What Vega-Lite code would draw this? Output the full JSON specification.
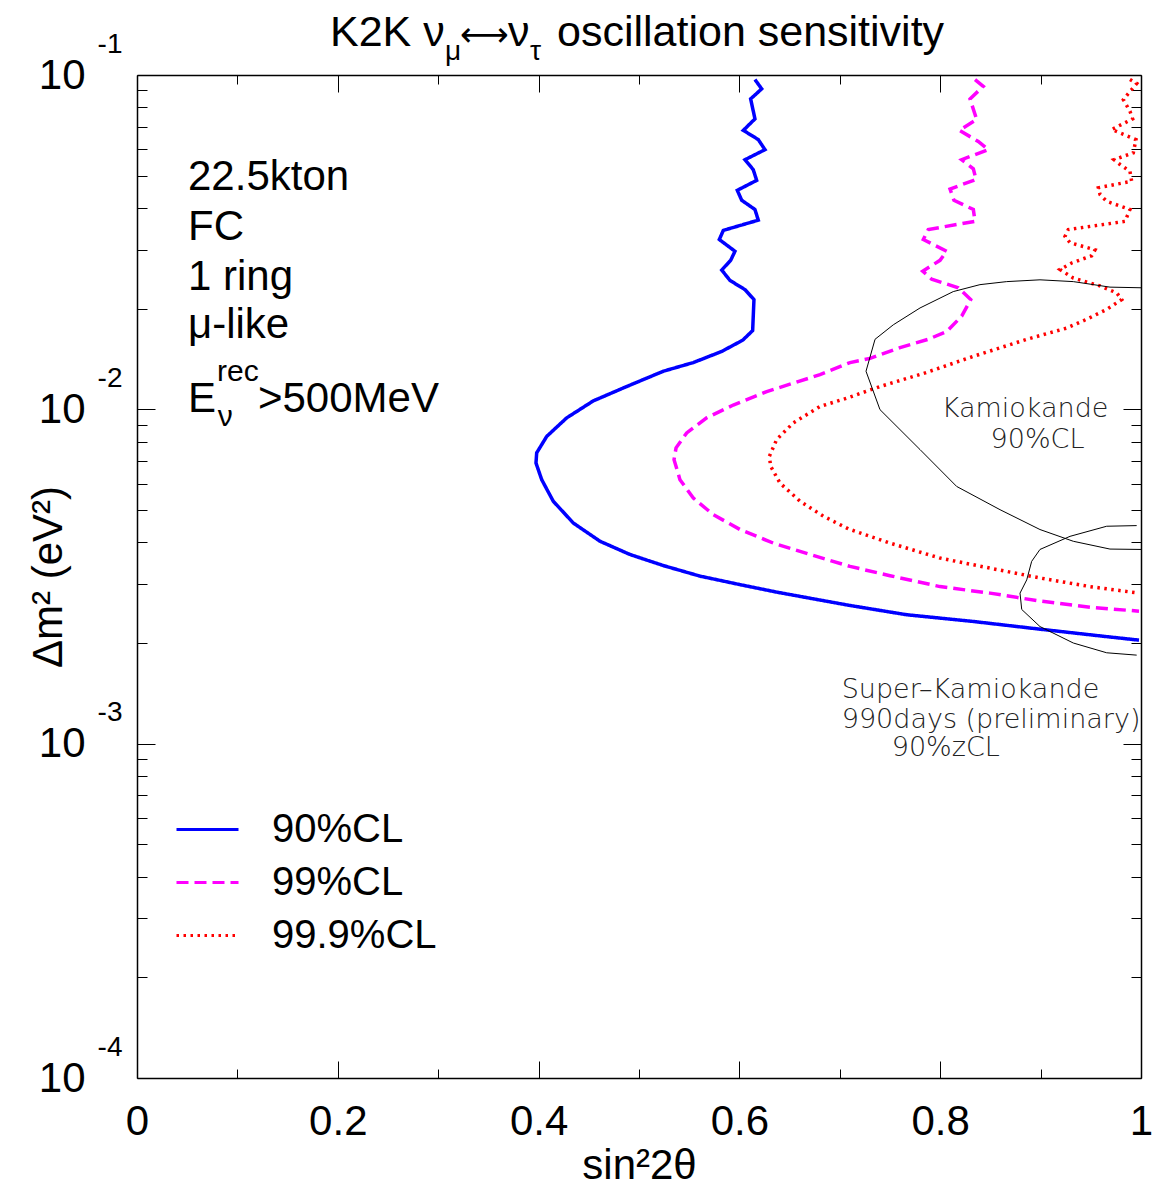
{
  "$schema": "https://vega.github.io/schema/vega-lite/v6.json",
  "width": 1004,
  "height": 1003,
  "autosize": {"type": "none"},
  "padding": {"left": 137, "top": 75, "right": 14, "bottom": 115},
  "background": "white",
  "config": {
    "view": {"stroke": null},
    "axis": {"grid": false, "domainColor": "black", "domainWidth": 1.5, "tickColor": "black", "tickWidth": 1, "labelColor": "black", "titleColor": "black", "labelFont": "Liberation Sans", "titleFont": "Liberation Sans", "titleFontWeight": "normal", "labelFlush": false, "labelOverlap": false},
    "text": {"font": "Liberation Sans", "color": "black"}
  },
  "datasets": {
    "curves": [
      {"s":"90%CL","i":1,"x":0.6155,"y":0.0969},{"s":"90%CL","i":2,"x":0.6222,"y":0.0909},{"s":"90%CL","i":3,"x":0.6112,"y":0.0848},{"s":"90%CL","i":4,"x":0.6155,"y":0.0739},{"s":"90%CL","i":5,"x":0.6039,"y":0.0683},{"s":"90%CL","i":6,"x":0.6188,"y":0.0641},{"s":"90%CL","i":7,"x":0.6255,"y":0.0598},{"s":"90%CL","i":8,"x":0.6056,"y":0.0558},{"s":"90%CL","i":9,"x":0.6138,"y":0.0521},{"s":"90%CL","i":10,"x":0.6172,"y":0.0484},
      {"s":"90%CL","i":11,"x":0.5979,"y":0.0452},{"s":"90%CL","i":12,"x":0.6023,"y":0.0422},{"s":"90%CL","i":13,"x":0.6155,"y":0.0396},{"s":"90%CL","i":14,"x":0.6188,"y":0.0368},{"s":"90%CL","i":15,"x":0.5840,"y":0.0343},{"s":"90%CL","i":16,"x":0.5800,"y":0.0322},{"s":"90%CL","i":17,"x":0.5956,"y":0.0297},{"s":"90%CL","i":18,"x":0.5913,"y":0.0279},{"s":"90%CL","i":19,"x":0.5824,"y":0.0261},{"s":"90%CL","i":20,"x":0.5906,"y":0.0243},
      {"s":"90%CL","i":21,"x":0.6056,"y":0.0228},{"s":"90%CL","i":22,"x":0.6145,"y":0.0213},{"s":"90%CL","i":23,"x":0.6132,"y":0.0172},{"s":"90%CL","i":24,"x":0.6033,"y":0.0161},{"s":"90%CL","i":25,"x":0.5824,"y":0.0149},{"s":"90%CL","i":26,"x":0.5541,"y":0.0138},{"s":"90%CL","i":27,"x":0.5242,"y":0.0130},{"s":"90%CL","i":28,"x":0.4877,"y":0.0117},{"s":"90%CL","i":29,"x":0.4545,"y":0.0106},{"s":"90%CL","i":30,"x":0.4280,"y":0.00943},
      {"s":"90%CL","i":31,"x":0.4081,"y":0.00830},{"s":"90%CL","i":32,"x":0.3981,"y":0.00741},{"s":"90%CL","i":33,"x":0.3974,"y":0.00691},{"s":"90%CL","i":34,"x":0.4031,"y":0.00616},{"s":"90%CL","i":35,"x":0.4146,"y":0.00531},{"s":"90%CL","i":36,"x":0.4346,"y":0.00457},{"s":"90%CL","i":37,"x":0.4612,"y":0.00403},{"s":"90%CL","i":38,"x":0.4910,"y":0.00368},{"s":"90%CL","i":39,"x":0.5242,"y":0.00341},{"s":"90%CL","i":40,"x":0.5608,"y":0.00317},
      {"s":"90%CL","i":41,"x":0.6006,"y":0.00299},{"s":"90%CL","i":42,"x":0.6371,"y":0.00284},{"s":"90%CL","i":43,"x":0.6770,"y":0.00270},{"s":"90%CL","i":44,"x":0.7102,"y":0.00259},{"s":"90%CL","i":45,"x":0.7666,"y":0.00243},{"s":"90%CL","i":46,"x":0.8330,"y":0.00232},{"s":"90%CL","i":47,"x":0.8994,"y":0.00220},{"s":"90%CL","i":48,"x":0.9658,"y":0.00209},{"s":"90%CL","i":49,"x":0.9980,"y":0.00204},
      {"s":"99%CL","i":1,"x":0.8347,"y":0.0969},{"s":"99%CL","i":2,"x":0.8429,"y":0.0925},{"s":"99%CL","i":3,"x":0.8297,"y":0.0848},{"s":"99%CL","i":4,"x":0.8363,"y":0.0736},{"s":"99%CL","i":5,"x":0.8190,"y":0.0683},{"s":"99%CL","i":6,"x":0.8379,"y":0.0633},{"s":"99%CL","i":7,"x":0.8479,"y":0.0598},{"s":"99%CL","i":8,"x":0.8214,"y":0.0558},{"s":"99%CL","i":9,"x":0.8330,"y":0.0524},{"s":"99%CL","i":10,"x":0.8357,"y":0.0487},
      {"s":"99%CL","i":11,"x":0.8098,"y":0.0456},{"s":"99%CL","i":12,"x":0.8137,"y":0.0422},{"s":"99%CL","i":13,"x":0.8330,"y":0.0396},{"s":"99%CL","i":14,"x":0.8347,"y":0.0365},{"s":"99%CL","i":15,"x":0.7881,"y":0.0345},{"s":"99%CL","i":16,"x":0.7832,"y":0.0322},{"s":"99%CL","i":17,"x":0.8065,"y":0.0297},{"s":"99%CL","i":18,"x":0.7998,"y":0.0279},{"s":"99%CL","i":19,"x":0.7826,"y":0.0259},{"s":"99%CL","i":20,"x":0.7915,"y":0.0245},
      {"s":"99%CL","i":21,"x":0.8180,"y":0.0231},{"s":"99%CL","i":22,"x":0.8304,"y":0.0213},{"s":"99%CL","i":23,"x":0.8214,"y":0.0190},{"s":"99%CL","i":24,"x":0.8065,"y":0.0171},{"s":"99%CL","i":25,"x":0.7881,"y":0.0162},{"s":"99%CL","i":26,"x":0.7600,"y":0.0153},{"s":"99%CL","i":27,"x":0.7301,"y":0.0142},{"s":"99%CL","i":28,"x":0.7102,"y":0.0138},{"s":"99%CL","i":29,"x":0.6803,"y":0.0127},{"s":"99%CL","i":30,"x":0.6272,"y":0.0113},
      {"s":"99%CL","i":31,"x":0.5939,"y":0.0103},{"s":"99%CL","i":32,"x":0.5674,"y":0.00943},{"s":"99%CL","i":33,"x":0.5475,"y":0.00850},{"s":"99%CL","i":34,"x":0.5369,"y":0.00767},{"s":"99%CL","i":35,"x":0.5349,"y":0.00707},{"s":"99%CL","i":36,"x":0.5408,"y":0.00616},{"s":"99%CL","i":37,"x":0.5541,"y":0.00543},{"s":"99%CL","i":38,"x":0.5740,"y":0.00484},{"s":"99%CL","i":39,"x":0.6006,"y":0.00437},{"s":"99%CL","i":40,"x":0.6338,"y":0.00398},
      {"s":"99%CL","i":41,"x":0.6703,"y":0.00368},{"s":"99%CL","i":42,"x":0.7102,"y":0.00339},{"s":"99%CL","i":43,"x":0.7500,"y":0.00318},{"s":"99%CL","i":44,"x":0.7998,"y":0.00295},{"s":"99%CL","i":45,"x":0.8496,"y":0.00282},{"s":"99%CL","i":46,"x":0.8994,"y":0.00267},{"s":"99%CL","i":47,"x":0.9492,"y":0.00256},{"s":"99%CL","i":48,"x":0.9980,"y":0.00249},
      {"s":"99.9%CL","i":1,"x":0.9890,"y":0.0969},{"s":"99.9%CL","i":2,"x":0.9957,"y":0.0943},{"s":"99.9%CL","i":3,"x":0.9824,"y":0.0844},{"s":"99.9%CL","i":4,"x":0.9890,"y":0.0779},{"s":"99.9%CL","i":5,"x":0.9917,"y":0.0739},{"s":"99.9%CL","i":6,"x":0.9708,"y":0.0687},{"s":"99.9%CL","i":7,"x":0.9791,"y":0.0671},{"s":"99.9%CL","i":8,"x":0.9950,"y":0.0641},{"s":"99.9%CL","i":9,"x":0.9923,"y":0.0585},{"s":"99.9%CL","i":10,"x":0.9731,"y":0.0558},
      {"s":"99.9%CL","i":11,"x":0.9791,"y":0.0540},{"s":"99.9%CL","i":12,"x":0.9890,"y":0.0515},{"s":"99.9%CL","i":13,"x":0.9907,"y":0.0481},{"s":"99.9%CL","i":14,"x":0.9575,"y":0.0460},{"s":"99.9%CL","i":15,"x":0.9592,"y":0.0439},{"s":"99.9%CL","i":16,"x":0.9658,"y":0.0419},{"s":"99.9%CL","i":17,"x":0.9890,"y":0.0396},{"s":"99.9%CL","i":18,"x":0.9841,"y":0.0365},{"s":"99.9%CL","i":19,"x":0.9276,"y":0.0345},{"s":"99.9%CL","i":20,"x":0.9243,"y":0.0329},
      {"s":"99.9%CL","i":21,"x":0.9293,"y":0.0315},{"s":"99.9%CL","i":22,"x":0.9542,"y":0.0300},{"s":"99.9%CL","i":23,"x":0.9509,"y":0.0288},{"s":"99.9%CL","i":24,"x":0.9310,"y":0.0274},{"s":"99.9%CL","i":25,"x":0.9193,"y":0.0262},{"s":"99.9%CL","i":26,"x":0.9326,"y":0.0247},{"s":"99.9%CL","i":27,"x":0.9592,"y":0.0234},{"s":"99.9%CL","i":28,"x":0.9758,"y":0.0223},{"s":"99.9%CL","i":29,"x":0.9808,"y":0.0213},{"s":"99.9%CL","i":30,"x":0.9658,"y":0.0199},
      {"s":"99.9%CL","i":31,"x":0.9459,"y":0.0186},{"s":"99.9%CL","i":32,"x":0.9260,"y":0.0175},{"s":"99.9%CL","i":33,"x":0.8862,"y":0.0162},{"s":"99.9%CL","i":34,"x":0.8330,"y":0.0144},{"s":"99.9%CL","i":35,"x":0.7832,"y":0.0128},{"s":"99.9%CL","i":36,"x":0.7400,"y":0.0117},{"s":"99.9%CL","i":37,"x":0.7069,"y":0.0108},{"s":"99.9%CL","i":38,"x":0.6803,"y":0.0102},{"s":"99.9%CL","i":39,"x":0.6537,"y":0.00911},{"s":"99.9%CL","i":40,"x":0.6371,"y":0.00812},
      {"s":"99.9%CL","i":41,"x":0.6298,"y":0.00723},{"s":"99.9%CL","i":42,"x":0.6312,"y":0.00675},{"s":"99.9%CL","i":43,"x":0.6404,"y":0.00602},{"s":"99.9%CL","i":44,"x":0.6604,"y":0.00531},{"s":"99.9%CL","i":45,"x":0.6836,"y":0.00479},{"s":"99.9%CL","i":46,"x":0.7085,"y":0.00439},{"s":"99.9%CL","i":47,"x":0.7500,"y":0.00398},{"s":"99.9%CL","i":48,"x":0.7998,"y":0.00359},{"s":"99.9%CL","i":49,"x":0.8496,"y":0.00335},{"s":"99.9%CL","i":50,"x":0.8994,"y":0.00313},
      {"s":"99.9%CL","i":51,"x":0.9492,"y":0.00295},{"s":"99.9%CL","i":52,"x":0.9980,"y":0.00282}
    ],
    "contours": [
      {"c":"kam","i":1,"x":1.0,"y":0.0231},{"c":"kam","i":2,"x":0.9691,"y":0.0232},{"c":"kam","i":3,"x":0.9326,"y":0.0241},{"c":"kam","i":4,"x":0.8994,"y":0.0244},{"c":"kam","i":5,"x":0.8662,"y":0.0241},{"c":"kam","i":6,"x":0.8396,"y":0.0236},{"c":"kam","i":7,"x":0.8130,"y":0.0225},{"c":"kam","i":8,"x":0.7799,"y":0.0201},{"c":"kam","i":9,"x":0.7533,"y":0.0179},{"c":"kam","i":10,"x":0.7351,"y":0.0162},
      {"c":"kam","i":11,"x":0.7261,"y":0.0130},{"c":"kam","i":12,"x":0.7400,"y":0.00998},{"c":"kam","i":13,"x":0.7799,"y":0.00758},{"c":"kam","i":14,"x":0.8164,"y":0.00588},{"c":"kam","i":15,"x":0.8596,"y":0.00501},{"c":"kam","i":16,"x":0.8994,"y":0.00437},{"c":"kam","i":17,"x":0.9326,"y":0.00403},{"c":"kam","i":18,"x":0.9691,"y":0.00382},{"c":"kam","i":19,"x":1.0,"y":0.00381},
      {"c":"sk","i":1,"x":0.9957,"y":0.00449},{"c":"sk","i":2,"x":0.9658,"y":0.00447},{"c":"sk","i":3,"x":0.9293,"y":0.00417},{"c":"sk","i":4,"x":0.8994,"y":0.00381},{"c":"sk","i":5,"x":0.8911,"y":0.00351},{"c":"sk","i":6,"x":0.8862,"y":0.00309},{"c":"sk","i":7,"x":0.8795,"y":0.00282},{"c":"sk","i":8,"x":0.8812,"y":0.00252},{"c":"sk","i":9,"x":0.8994,"y":0.00224},{"c":"sk","i":10,"x":0.9326,"y":0.00200},{"c":"sk","i":11,"x":0.9658,"y":0.00187},{"c":"sk","i":12,"x":0.9957,"y":0.00184}
    ],
    "labels": [
      {"g":"info","t":"22.5kton","x":0.0508,"y":0.0452},
      {"g":"info","t":"FC","x":0.0508,"y":0.0322},
      {"g":"info","t":"1 ring","x":0.0508,"y":0.0227},
      {"g":"info","t":"μ-like","x":0.0508,"y":0.01635},
      {"g":"info","t":"E","x":0.0508,"y":0.009843},
      {"g":"info","t":">500MeV","x":0.1205,"y":0.009843},
      {"g":"small","t":"rec","x":0.0797,"y":0.012186},
      {"g":"small","t":"ν","x":0.0804,"y":0.008938},
      {"g":"title","t":"K2K ν","x":0.1922,"y":0.12245},
      {"g":"title","t":"ν","x":0.3695,"y":0.12245},
      {"g":"title","t":"oscillation sensitivity","x":0.4183,"y":0.12245},
      {"g":"arrow","t":"⟷","x":0.3217,"y":0.12245},
      {"g":"titlesub","t":"μ","x":0.3068,"y":0.11121},
      {"g":"titlesub","t":"τ","x":0.3914,"y":0.11121},
      {"g":"kam","t":"Kamiokande","x":0.8845,"y":0.00951},
      {"g":"kam","t":"90%CL","x":0.8969,"y":0.00768},
      {"g":"sk","t":"Super–Kamiokande","x":0.7019,"y":0.00137},
      {"g":"sk","t":"990days (preliminary)","x":0.7019,"y":0.001114},
      {"g":"sk","t":"90%zCL","x":0.7517,"y":0.000916}
    ]
  },
  "resolve": {"axis": {"x": "independent", "y": "independent"}},
  "layer": [
    {
      "data": {"name": "curves"},
      "mark": {"type": "line", "strokeWidth": 3.5, "strokeCap": "butt"},
      "encoding": {
        "x": {"field": "x", "type": "quantitative", "scale": {"domain": [0, 1], "nice": false, "zero": false},
          "axis": {"orient": "bottom", "values": [0,0.1,0.2,0.3,0.4,0.5,0.6,0.7,0.8,0.9,1],
            "tickSize": {"condition": {"test": "round(datum.value*10)%2==0", "value": -17}, "value": -9},
            "labelExpr": "round(datum.value*10)%2==0 ? format(datum.value,'~g') : ''",
            "labelFontSize": 42, "labelPadding": 40, "title": "sin²2θ", "titleFontSize": 42, "titlePadding": -5}},
        "y": {"field": "y", "type": "quantitative", "scale": {"type": "log", "domain": [0.0001, 0.1], "nice": false},
          "axis": {"orient": "left", "values": [0.0001,0.0002,0.0003,0.0004,0.0005,0.0006,0.0007,0.0008,0.0009,0.001,0.002,0.003,0.004,0.005,0.006,0.007,0.008,0.009,0.01,0.02,0.03,0.04,0.05,0.06,0.07,0.08,0.09,0.1],
            "tickSize": {"condition": {"test": "abs(log(datum.value)/LN10 - round(log(datum.value)/LN10)) < 0.001", "value": -18}, "value": -10},
            "labelExpr": "abs(log(datum.value)/LN10 - round(log(datum.value)/LN10)) < 0.001 ? '10' : ''",
            "labelFontSize": 42, "labelPadding": 70, "labelBaseline": "middle", "title": "Δm² (eV²)", "titleFontSize": 42, "titlePadding": -32}},
        "color": {"field": "s", "type": "nominal", "scale": {"domain": ["90%CL", "99%CL", "99.9%CL"], "range": ["#0000ff", "#ff00ff", "#ff0000"]},
          "legend": {"orient": "none", "legendX": 38, "legendY": 722, "title": null, "symbolType": "stroke", "symbolSize": 3844, "symbolStrokeWidth": 3, "labelFontSize": 40, "labelFont": "Liberation Sans", "labelColor": "black", "labelOffset": 32, "rowPadding": 0, "padding": 0, "labelLimit": 400}},
        "strokeDash": {"field": "s", "type": "nominal", "scale": {"domain": ["90%CL", "99%CL", "99.9%CL"], "range": [[1, 0], [12, 6], [2.5, 4.5]]},
          "legend": {"orient": "none", "legendX": 38, "legendY": 722, "title": null, "symbolType": "stroke", "symbolSize": 3844, "symbolStrokeWidth": 3, "labelFontSize": 40, "labelFont": "Liberation Sans", "labelColor": "black", "labelOffset": 32, "rowPadding": 0, "padding": 0, "labelLimit": 400}},
        "order": {"field": "i", "type": "quantitative"}
      }
    },
    {
      "data": {"name": "contours"},
      "mark": {"type": "line", "color": "black", "strokeWidth": 1},
      "encoding": {
        "x": {"field": "x", "type": "quantitative",
          "axis": {"orient": "top", "values": [0,0.1,0.2,0.3,0.4,0.5,0.6,0.7,0.8,0.9,1],
            "tickSize": {"condition": {"test": "round(datum.value*10)%2==0", "value": -17}, "value": -9},
            "labels": false, "title": null}},
        "y": {"field": "y", "type": "quantitative",
          "axis": {"orient": "right", "values": [0.0001,0.0002,0.0003,0.0004,0.0005,0.0006,0.0007,0.0008,0.0009,0.001,0.002,0.003,0.004,0.005,0.006,0.007,0.008,0.009,0.01,0.02,0.03,0.04,0.05,0.06,0.07,0.08,0.09,0.1],
            "tickSize": {"condition": {"test": "abs(log(datum.value)/LN10 - round(log(datum.value)/LN10)) < 0.001", "value": -18}, "value": -10},
            "labels": false, "title": null}},
        "detail": {"field": "c", "type": "nominal"},
        "order": {"field": "i", "type": "quantitative"}
      }
    },
    {
      "data": {"name": "labels"},
      "transform": [{"filter": "datum.g=='info'"}],
      "mark": {"type": "text", "align": "left", "baseline": "alphabetic", "fontSize": 42},
      "encoding": {
        "x": {"field": "x", "type": "quantitative", "axis": null},
        "y": {"field": "y", "type": "quantitative",
          "axis": {"orient": "left", "values": [0.0001, 0.001, 0.01, 0.1], "ticks": false, "domain": false,
            "labelExpr": "'-' + round(-log(datum.value)/LN10)", "labelFontSize": 28, "labelPadding": 15, "labelOffset": -31, "labelBaseline": "middle", "title": null}},
        "text": {"field": "t"}
      }
    },
    {
      "data": {"name": "labels"},
      "transform": [{"filter": "datum.g=='small'"}],
      "mark": {"type": "text", "align": "left", "baseline": "alphabetic", "fontSize": 30},
      "encoding": {
        "x": {"field": "x", "type": "quantitative", "axis": null},
        "y": {"field": "y", "type": "quantitative", "axis": null},
        "text": {"field": "t"}
      }
    },
    {
      "data": {"name": "labels"},
      "transform": [{"filter": "datum.g=='title'"}],
      "mark": {"type": "text", "align": "left", "baseline": "alphabetic", "fontSize": 43},
      "encoding": {
        "x": {"field": "x", "type": "quantitative", "axis": null},
        "y": {"field": "y", "type": "quantitative", "axis": null},
        "text": {"field": "t"}
      }
    },
    {
      "data": {"name": "labels"},
      "transform": [{"filter": "datum.g=='arrow'"}],
      "mark": {"type": "text", "align": "left", "baseline": "alphabetic", "fontSize": 34, "font": "DejaVu Sans"},
      "encoding": {
        "x": {"field": "x", "type": "quantitative", "axis": null},
        "y": {"field": "y", "type": "quantitative", "axis": null},
        "text": {"field": "t"}
      }
    },
    {
      "data": {"name": "labels"},
      "transform": [{"filter": "datum.g=='titlesub'"}],
      "mark": {"type": "text", "align": "left", "baseline": "alphabetic", "fontSize": 28},
      "encoding": {
        "x": {"field": "x", "type": "quantitative", "axis": null},
        "y": {"field": "y", "type": "quantitative", "axis": null},
        "text": {"field": "t"}
      }
    },
    {
      "data": {"name": "labels"},
      "transform": [{"filter": "datum.g=='kam'"}],
      "mark": {"type": "text", "align": "center", "baseline": "alphabetic", "fontSize": 27, "font": "DejaVu Sans", "fontWeight": 200, "color": "#222222"},
      "encoding": {
        "x": {"field": "x", "type": "quantitative", "axis": null},
        "y": {"field": "y", "type": "quantitative", "axis": null},
        "text": {"field": "t"}
      }
    },
    {
      "data": {"name": "labels"},
      "transform": [{"filter": "datum.g=='sk'"}],
      "mark": {"type": "text", "align": "left", "baseline": "alphabetic", "fontSize": 27, "font": "DejaVu Sans", "fontWeight": 200, "color": "#222222"},
      "encoding": {
        "x": {"field": "x", "type": "quantitative", "axis": null},
        "y": {"field": "y", "type": "quantitative", "axis": null},
        "text": {"field": "t"}
      }
    }
  ]
}
